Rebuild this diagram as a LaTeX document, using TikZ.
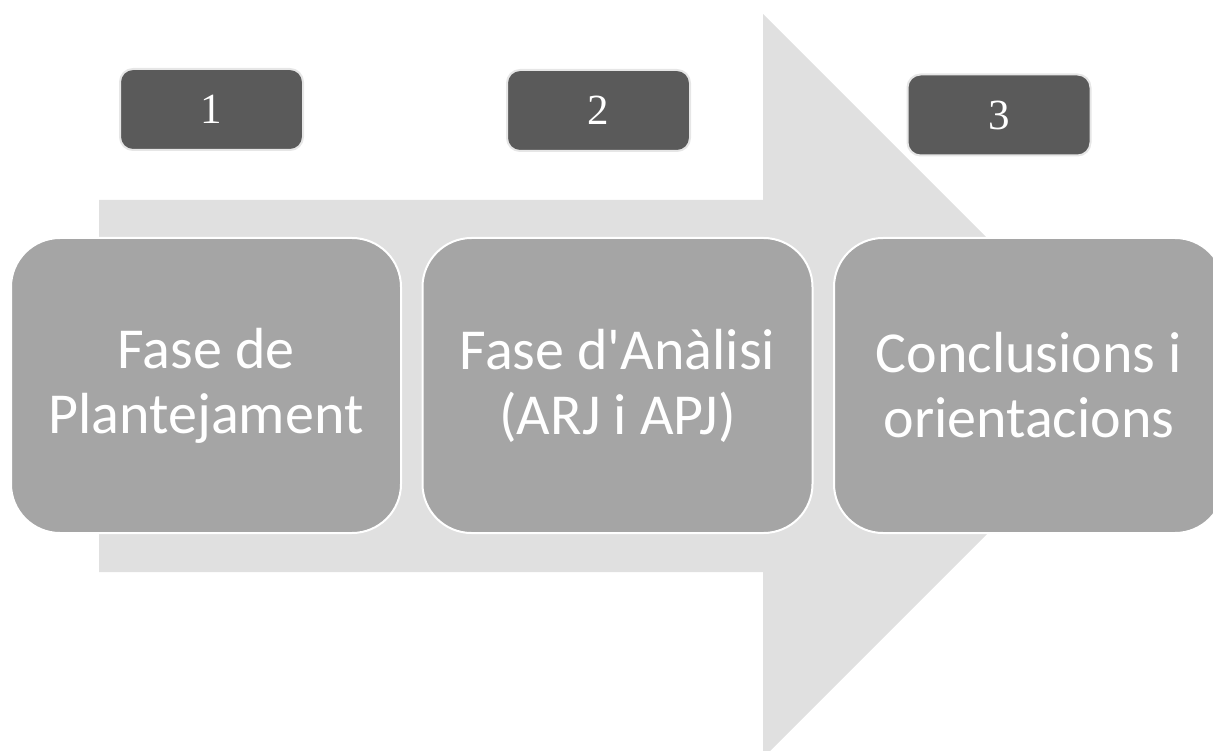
\documentclass[tikz,border=0pt]{standalone}
\usepackage{fontspec}
\setmainfont{Carlito}[Ligatures=TeXOff]
\newfontfamily\digitfont{Liberation Serif}
\definecolor{arrowgray}{HTML}{E0E0E0}
\definecolor{boxgray}{HTML}{A5A5A5}
\definecolor{numgray}{HTML}{5A5A5A}
\definecolor{numedge}{HTML}{E6E6E6}
\begin{document}
\begin{tikzpicture}[x=1pt,y=-1pt,
  bigbox/.style={draw=white, line width=2pt, fill=boxgray, rounded corners=49pt,
    minimum width=390pt, minimum height=295pt, inner sep=0pt, align=center,
    text=white, font=\fontsize{58}{65}\selectfont},
  numbox/.style={draw=numedge, line width=2pt, fill=numgray, rounded corners=13pt,
    minimum width=183pt, minimum height=81pt, inner sep=0pt,
    text=white, font=\digitfont\fontsize{43}{50}\selectfont}]
\useasboundingbox (0,0) rectangle (1213,751);
\clip (0,0) rectangle (1213,751);
% big arrow
\fill[arrowgray] (99,200) -- (763,200) -- (763,14) -- (1135,386) -- (763,758) -- (763,572) -- (99,572) -- cycle;
% phase boxes
\node[bigbox] (b1) at (206,385.5) {Fase de\\Plantejament};
\node[bigbox] (b2) at (617.5,385.5) {Fase d'Anàlisi\\(ARJ i APJ)};
\node[bigbox] (b3) at (1029,385.5) {Conclusions i\\orientacions};
% number boxes
\node[numbox] (n1) at (211.5,109.5) {1};
\node[numbox] (n2) at (598.5,110.5) {2};
\node[numbox] (n3) at (999,115) {3};
\end{tikzpicture}
\end{document}
